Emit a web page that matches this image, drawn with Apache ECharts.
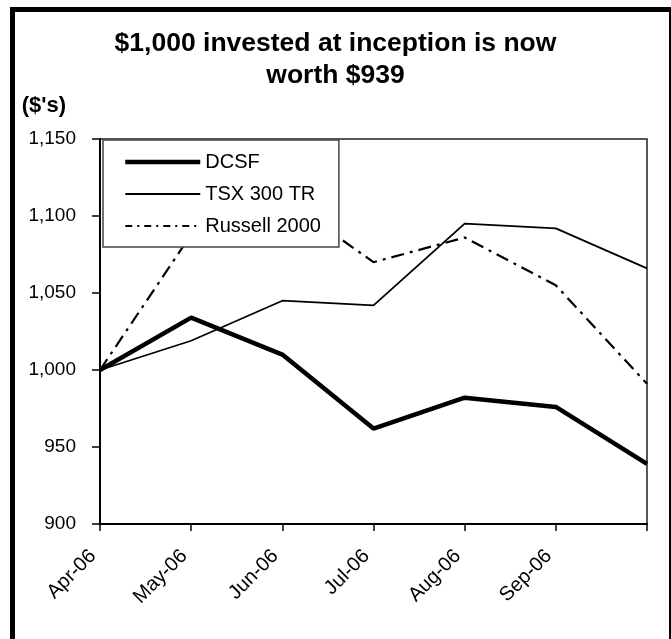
<!DOCTYPE html>
<html>
<head>
<meta charset="utf-8">
<script src="https://cdn.jsdelivr.net/npm/echarts@6/dist/echarts.min.js"></script>
<style>
  html, body { margin: 0; padding: 0; background: #fff; }
  #chart { width: 671px; height: 639px; }
</style>
</head>
<body>
<div id="chart"></div>
<script>
// data
var months = ['Apr-06', 'May-06', 'Jun-06', 'Jul-06', 'Aug-06', 'Sep-06', 'Oct-06']
var dcsf = [1000, 1034, 1010, 962, 982, 976, 939]
var tsx = [1000, 1019, 1045, 1042, 1095, 1092, 1066]
var russell = [1000, 1088, 1112, 1070, 1086, 1055, 991]
var yTicks = [900, 950, 1000, 1050, 1100, 1150]

var font = "'Liberation Sans', Arial, sans-serif"
var chart = echarts.init(document.getElementById('chart'))

var dcsfLine = { color: '#000', width: 4.5 }
var tsxLine = { color: '#000', width: 1.8 }
var russellLine = { color: '#000', width: 2.2, type: [13, 6, 3, 6] }

var option = {
  animation: false,
  backgroundColor: '#fff',
  textStyle: { fontFamily: font, color: '#000' },
  title: {
    text: '$1,000 invested at inception is now\nworth $939',
    left: 'center',
    top: 28,
    padding: 0,
    textStyle: { fontSize: 26.5, fontWeight: 'bold', lineHeight: 32, color: '#000', fontFamily: font }
  },
  graphic: [
    {
      type: 'rect',
      shape: { x: 12.5, y: 9.5, width: 659, height: 700 },
      style: { fill: null, stroke: '#000', lineWidth: 5 },
      silent: true
    }
  ],
  legend: {
    orient: 'vertical',
    left: 103,
    top: 140,
    padding: [12, 18, 11, 20],
    itemWidth: 75,
    itemHeight: 20,
    itemGap: 12,
    backgroundColor: '#fff',
    borderColor: '#444',
    borderWidth: 1.5,
    itemStyle: { opacity: 0 },
    textStyle: { fontSize: 20, color: '#000', fontFamily: font },
    data: [
      { name: 'DCSF', lineStyle: dcsfLine },
      { name: 'TSX 300 TR', lineStyle: tsxLine },
      { name: 'Russell 2000', lineStyle: { color: '#000', width: 2, type: [7, 5, 2, 5] } }
    ]
  },
  grid: {
    left: 100,
    right: 24,
    top: 139,
    bottom: 115,
    show: true,
    borderColor: '#222',
    borderWidth: 1.5,
    backgroundColor: '#fff'
  },
  xAxis: {
    type: 'category',
    boundaryGap: false,
    data: months,
    axisLine: { lineStyle: { color: '#000', width: 2 } },
    axisTick: { show: true, length: 7, lineStyle: { color: '#000', width: 1.5 }, interval: 0 },
    axisLabel: {
      rotate: 45,
      margin: 22,
      padding: [0, 10, 0, 0],
      fontSize: 20,
      color: '#000',
      fontFamily: font,
      interval: function (i) { return i < months.length - 1 }
    },
    splitLine: { show: false }
  },
  yAxis: {
    type: 'value',
    min: yTicks[0],
    max: yTicks[yTicks.length - 1],
    interval: 50,
    name: "($'s)",
    nameLocation: 'end',
    nameGap: 22,
    nameTextStyle: { fontSize: 22, fontWeight: 'bold', color: '#000', align: 'right', padding: [0, 34, 0, 0], fontFamily: font },
    axisLine: { show: true, lineStyle: { color: '#000', width: 2 } },
    axisTick: { show: true, length: 8, lineStyle: { color: '#000', width: 1.5 } },
    axisLabel: {
      margin: 24,
      fontSize: 19,
      color: '#000',
      fontFamily: font,
      formatter: function (v) { return v.toLocaleString('en-US') }
    },
    splitLine: { show: false }
  },
  series: [
    {
      name: 'DCSF',
      type: 'line',
      data: dcsf,
      symbol: 'none',
      z: 5,
      lineStyle: dcsfLine,
      itemStyle: { color: '#000' }
    },
    {
      name: 'TSX 300 TR',
      type: 'line',
      data: tsx,
      symbol: 'none',
      z: 4,
      lineStyle: tsxLine,
      itemStyle: { color: '#000' }
    },
    {
      name: 'Russell 2000',
      type: 'line',
      data: russell,
      symbol: 'none',
      z: 3,
      lineStyle: russellLine,
      itemStyle: { color: '#000' }
    }
  ]
}

chart.setOption(option)
</script>
</body>
</html>
